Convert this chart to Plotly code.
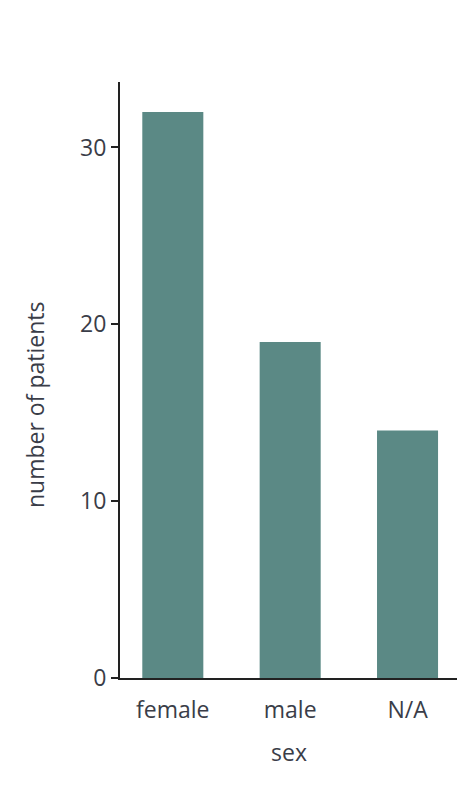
import plotly.graph_objects as go

# datos
categorias = ["female", "male", "N/A"]
pacientes = [32, 19, 14]
ticks_y = [0, 10, 20, 30]

COLOR_BARRA = "#5b8985"
COLOR_TEXTO = "#3a3d48"
FUENTE = "Open Sans"
TAM = 23

fig = go.Figure()
fig.add_trace(go.Bar(x=categorias, y=pacientes, marker_color=COLOR_BARRA,
                     marker_line_width=0))

fig.update_layout(
    width=465, height=800,
    margin=dict(l=112, r=15, t=74, b=130),
    plot_bgcolor="white", paper_bgcolor="white",
    bargap=0.48,
    showlegend=False,
    font=dict(family=FUENTE, size=TAM, color=COLOR_TEXTO),
)
fig.update_xaxes(
    range=[-0.45, 2.43], showline=True, linecolor="#222", linewidth=2,
    ticks="", showgrid=False, tickfont=dict(size=TAM), ticklabelstandoff=10,
    title_text="sex", title_font=dict(size=TAM), title_standoff=21,
)
fig.update_yaxes(
    range=[0, 33.7], tickvals=ticks_y, showline=True, linecolor="#222",
    linewidth=2, ticks="outside", ticklen=7, tickwidth=2, tickcolor="#222",
    showgrid=False, zeroline=False, tickfont=dict(size=TAM),
)
# titulo del eje y como anotacion para fijar su posicion
fig.add_annotation(text="number of patients", xref="paper", yref="paper",
                   x=-0.2515, y=0.458, textangle=-90, showarrow=False,
                   font=dict(size=TAM, color=COLOR_TEXTO), xanchor="center",
                   yanchor="middle")

fig.write_html("out.html")
